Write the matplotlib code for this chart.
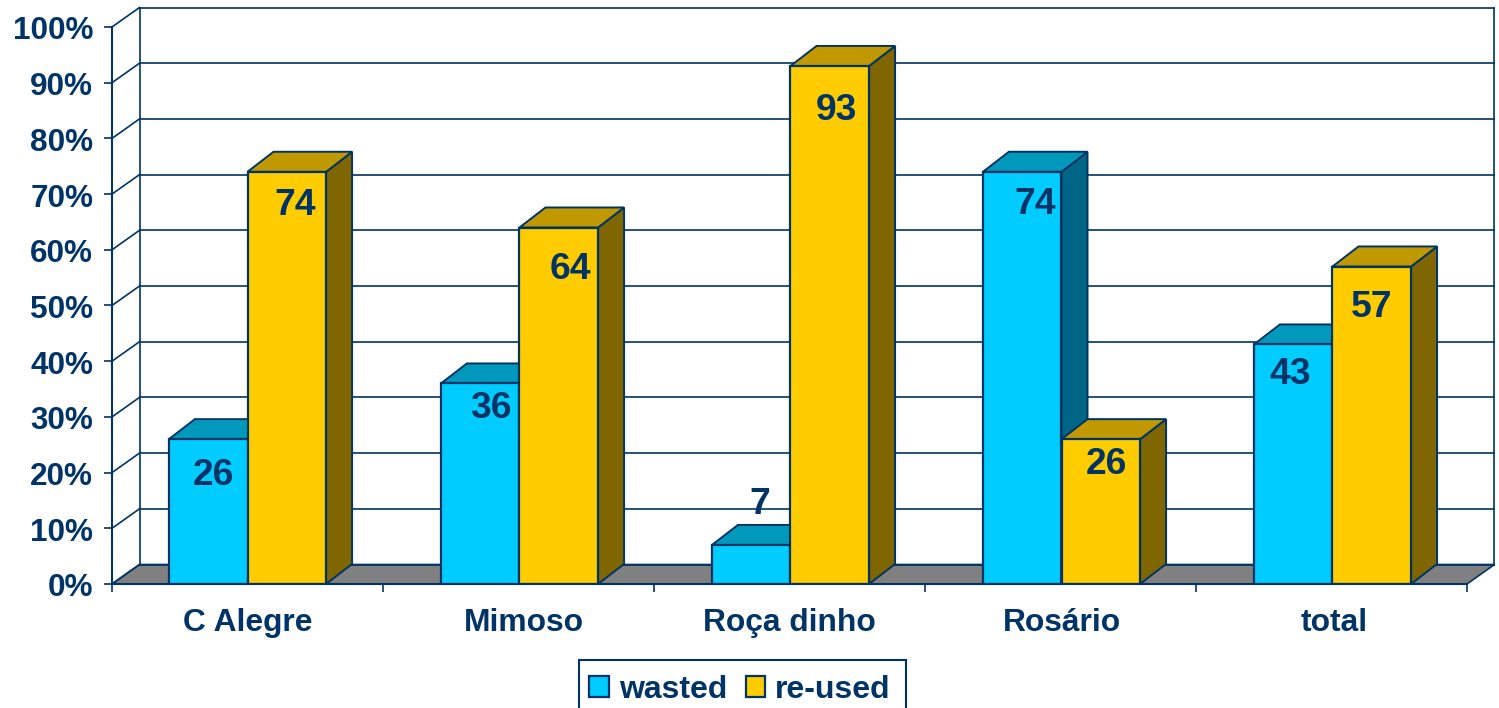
import matplotlib
matplotlib.use("Agg")
import matplotlib.pyplot as plt
from matplotlib.patches import Polygon, Rectangle
from matplotlib.transforms import ScaledTranslation

plt.rcParams["font.family"] = ["Liberation Sans", "DejaVu Sans"]
plt.rcParams["font.weight"] = "bold"

categories = ["C Alegre", "Mimoso", "Roça dinho", "Rosário", "total"]
wasted = [26, 36, 7, 74, 43]
reused = [74, 64, 93, 26, 57]
y_ticks = [0, 10, 20, 30, 40, 50, 60, 70, 80, 90, 100]

# label nudges in pixels, from the top centre of each bar
wasted_nudge = [(5, -36), (11, -25), (9, 41), (13, -33), (-3, -30)]
reused_nudge = [(8, -34), (12, -42), (7, -45), (6, -25), (0, -41)]
# the groups and their names are not quite evenly placed in the original
group_nudge = [0, 1, 1, 1, 1]
name_nudge = [0, 5, 0, 1, 3]

NAVY = "#003366"
BAR_W = 0.29
WALL_DX = 27.5 / 271   # category units
WALL_DY = 3.5          # percent
BAR_DX = 26 / 271
BAR_DY = 3.6


def draw_bars(ax, xs, values, face, top, side, z, label):
    ax.bar(xs, values, BAR_W, color=face, edgecolor=NAVY, linewidth=1.6,
           zorder=z, label=label)
    for x, v in zip(xs, values):
        l, r = x - BAR_W / 2, x + BAR_W / 2
        top_pts = [(l, v), (r, v), (r + BAR_DX, v + BAR_DY), (l + BAR_DX, v + BAR_DY)]
        side_pts = [(r, 0), (r + BAR_DX, BAR_DY), (r + BAR_DX, v + BAR_DY), (r, v)]
        ax.add_patch(Polygon(side_pts, facecolor=side, edgecolor=NAVY, linewidth=1.4,
                             zorder=z - 0.5, clip_on=False))
        ax.add_patch(Polygon(top_pts, facecolor=top, edgecolor=NAVY, linewidth=1.4,
                             zorder=z - 0.4, clip_on=False))


def draw_walls(ax, n):
    ax.add_patch(Polygon([(0, 0), (WALL_DX, WALL_DY), (n + WALL_DX, WALL_DY), (n, 0)],
                         facecolor="#808080", edgecolor=NAVY, linewidth=1.2,
                         zorder=1, clip_on=False))
    for v in y_ticks:
        ax.plot([WALL_DX, n + WALL_DX], [v + WALL_DY] * 2, color=NAVY, lw=1.2,
                zorder=1.5, clip_on=False)
        ax.plot([0, WALL_DX], [v, v + WALL_DY], color=NAVY, lw=1.2,
                zorder=1.5, clip_on=False)
    for x in (WALL_DX, n + WALL_DX):
        ax.plot([x, x], [WALL_DY, 100 + WALL_DY], color=NAVY, lw=1.2,
                zorder=1.5, clip_on=False)


def shift_pixels(artist, dx, dy):
    artist.set_transform(artist.get_transform()
                         + ScaledTranslation(dx / 100, dy / 100, fig.dpi_scale_trans))


fig = plt.figure(figsize=(14.99, 7.08), dpi=100)
ax = fig.add_axes([112 / 1499, 124 / 708, 1355 / 1499, 557 / 708])

n = len(categories)
centers = [i + 0.5 for i in range(n)]
xs_wasted = [c + g / 271 - BAR_W / 2 for c, g in zip(centers, group_nudge)]
xs_reused = [c + g / 271 + BAR_W / 2 for c, g in zip(centers, group_nudge)]

draw_walls(ax, n)
draw_bars(ax, xs_wasted, wasted, "#00CCFF", "#0099BB", "#006685", 3, "wasted")
draw_bars(ax, xs_reused, reused, "#FFCC00", "#C09900", "#806600", 5, "re-used")

for xs, values, nudges in [(xs_wasted, wasted, wasted_nudge), (xs_reused, reused, reused_nudge)]:
    for x, v, nudge in zip(xs, values, nudges):
        ax.annotate(str(v), (x, v), xytext=nudge, textcoords="offset pixels",
                    ha="center", va="center", fontsize=26.8, color=NAVY,
                    zorder=10, annotation_clip=False)

ax.set_xlim(0, n)
ax.set_ylim(0, 100)
ax.patch.set_visible(False)
for s in ("top", "right"):
    ax.spines[s].set_visible(False)
for s in ("left", "bottom"):
    ax.spines[s].set_color(NAVY)
    ax.spines[s].set_linewidth(1.5)
    ax.spines[s].set_zorder(8)

ax.set_yticks(y_ticks)
ax.set_yticklabels([f"{v}%" for v in y_ticks], fontsize=22.7, color=NAVY)
ax.tick_params(axis="y", length=6, width=1.2, color=NAVY, pad=7.5)
for lab in ax.get_yticklabels():
    shift_pixels(lab, 0, -1)

ax.set_xticks(centers)
ax.set_xticklabels(categories, fontsize=22.9, color=NAVY)
ax.set_xticks(range(n + 1), minor=True)
ax.tick_params(axis="x", which="major", length=0, pad=17.5)
ax.tick_params(axis="x", which="minor", length=6, width=1.2, color=NAVY)
for lab, dx in zip(ax.get_xticklabels(), name_nudge):
    shift_pixels(lab, dx, 0)

fig.legend(loc="upper left", bbox_to_anchor=(578.5 / 1499, 1 - 664 / 708), ncol=2,
           fontsize=23, frameon=False, borderpad=0.34, borderaxespad=0,
           handlelength=0.6, handleheight=0.6, handletextpad=0.32,
           columnspacing=0.58, labelcolor=NAVY)
# frame runs off the bottom of the picture
fig.add_artist(Rectangle((579 / 1499, -10 / 708), 327 / 1499, 58 / 708,
                         transform=fig.transFigure, facecolor="none",
                         edgecolor=NAVY, linewidth=1.5))

fig.savefig("out.png", dpi=100)
